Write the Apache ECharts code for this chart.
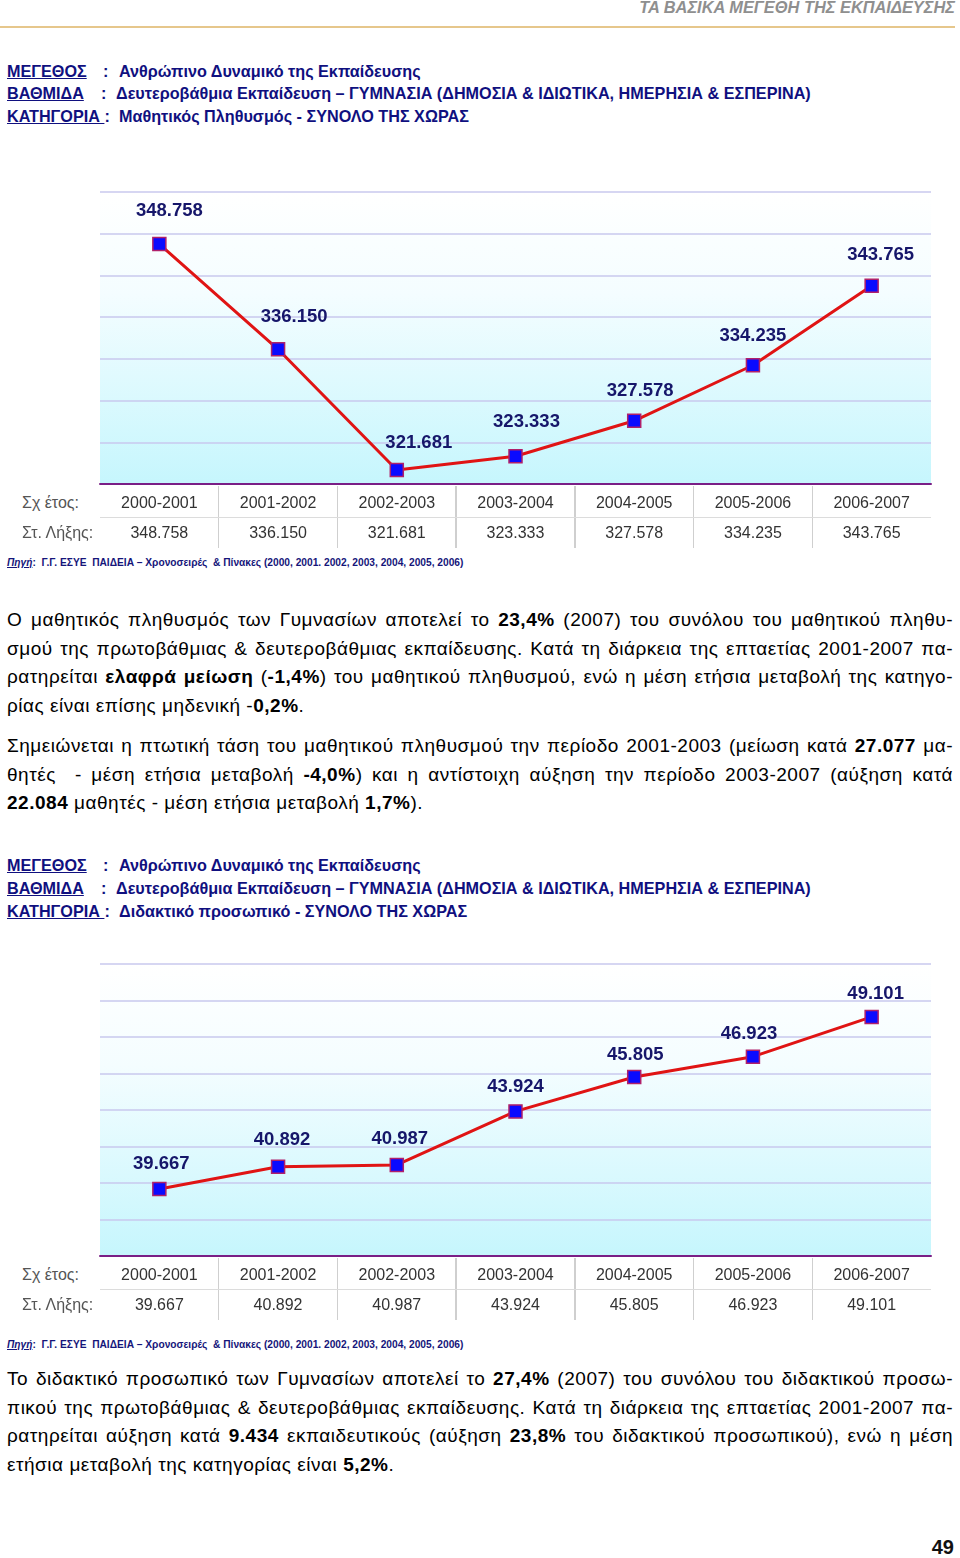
<!DOCTYPE html>
<html>
<head>
<meta charset="utf-8">
<script src="https://cdn.jsdelivr.net/npm/echarts@6/dist/echarts.min.js"></script>
<style>
  html, body { margin:0; padding:0; background:#fff; }
  #page { position:relative; width:960px; height:1558px; overflow:hidden; font-family:'Liberation Sans', Arial, sans-serif; }
  .abs { position:absolute; white-space:nowrap; }
  .hdr { right:5px; top:-3px; font-size:16.4px; line-height:20px; font-style:italic; font-weight:bold; color:#8f8f8f; }
  .gold { left:0; top:26px; width:955px; height:2px; background:#e6c78c; }
  .ttl { font-size:16.2px; line-height:20px; font-weight:bold; color:#10107f; }
  .src { font-size:10.2px; line-height:12px; font-weight:bold; color:#15157a; left:7px; }
  .par { position:absolute; left:7px; width:946px; font-size:19px; letter-spacing:0.52px; line-height:28.6px; color:#000; }
  .par div { text-align:justify; text-align-last:justify; white-space:nowrap; }
  .par div.last { text-align:left; text-align-last:left; }
  .tcell { position:absolute; font-size:16px; line-height:20px; color:#333; text-align:center; }
  .tlab { position:absolute; font-size:16px; line-height:20px; color:#555; left:22px; }
  .vsep { position:absolute; width:1.5px; background:#cfcfcf; }
  .hsep { position:absolute; height:1px; background:#dcdcdc; }
  .chart { position:absolute; left:0; width:960px; height:340px; }
</style>
</head>
<body>
<div id="page">
  <div class="abs hdr">ΤΑ ΒΑΣΙΚΑ ΜΕΓΕΘΗ ΤΗΣ ΕΚΠΑΙΔΕΥΣΗΣ</div>
  <div class="abs gold"></div>

  <div class="abs ttl" style="left:7px;top:61px"><u>ΜΕΓΕΘΟΣ</u></div>
  <div class="abs ttl" style="left:103px;top:61px">:</div>
  <div class="abs ttl" style="left:119px;top:61px">Ανθρώπινο Δυναμικό της Εκπαίδευσης</div>
  <div class="abs ttl" style="left:7px;top:83px"><u>ΒΑΘΜΙΔΑ</u></div>
  <div class="abs ttl" style="left:101px;top:83px">:</div>
  <div class="abs ttl" style="left:116px;top:83px">Δευτεροβάθμια Εκπαίδευση – ΓΥΜΝΑΣΙΑ (ΔΗΜΟΣΙΑ &amp; ΙΔΙΩΤΙΚΑ, ΗΜΕΡΗΣΙΑ &amp; ΕΣΠΕΡΙΝΑ)</div>
  <div class="abs ttl" style="left:7px;top:106px"><u>ΚΑΤΗΓΟΡΙΑ </u>:</div>
  <div class="abs ttl" style="left:119px;top:106px">Μαθητικός Πληθυσμός - ΣΥΝΟΛΟ ΤΗΣ ΧΩΡΑΣ</div>

  <div id="chart1" class="chart" style="top:150px"></div>
  <div id="table1"></div>
  <div class="abs src" style="top:557px"><i><u>Πηγή</u></i>:&nbsp; Γ.Γ. ΕΣΥΕ &nbsp;ΠΑΙΔΕΙΑ – Χρονοσειρές &nbsp;&amp; Πίνακες (2000, 2001. 2002, 2003, 2004, 2005, 2006)</div>

  <div class="par" style="top:606px">
    <div>Ο μαθητικός πληθυσμός των Γυμνασίων αποτελεί το <b>23,4%</b> (2007) του συνόλου του μαθητικού πληθυ-</div>
    <div>σμού της πρωτοβάθμιας &amp; δευτεροβάθμιας εκπαίδευσης. Κατά τη διάρκεια της επταετίας 2001-2007 πα-</div>
    <div>ρατηρείται <b>ελαφρά μείωση</b> (<b>-1,4%</b>) του μαθητικού πληθυσμού, ενώ η μέση ετήσια μεταβολή της κατηγο-</div>
    <div class="last">ρίας είναι επίσης μηδενική -<b>0,2%</b>.</div>
  </div>
  <div class="par" style="top:732px">
    <div>Σημειώνεται η πτωτική τάση του μαθητικού πληθυσμού την περίοδο 2001-2003 (μείωση κατά <b>27.077</b> μα-</div>
    <div>θητές &nbsp;- μέση ετήσια μεταβολή <b>-4,0%</b>) και η αντίστοιχη αύξηση την περίοδο 2003-2007 (αύξηση κατά</div>
    <div class="last"><b>22.084</b> μαθητές - μέση ετήσια μεταβολή <b>1,7%</b>).</div>
  </div>

  <div class="abs ttl" style="left:7px;top:855px"><u>ΜΕΓΕΘΟΣ</u></div>
  <div class="abs ttl" style="left:103px;top:855px">:</div>
  <div class="abs ttl" style="left:119px;top:855px">Ανθρώπινο Δυναμικό της Εκπαίδευσης</div>
  <div class="abs ttl" style="left:7px;top:878px"><u>ΒΑΘΜΙΔΑ</u></div>
  <div class="abs ttl" style="left:101px;top:878px">:</div>
  <div class="abs ttl" style="left:116px;top:878px">Δευτεροβάθμια Εκπαίδευση – ΓΥΜΝΑΣΙΑ (ΔΗΜΟΣΙΑ &amp; ΙΔΙΩΤΙΚΑ, ΗΜΕΡΗΣΙΑ &amp; ΕΣΠΕΡΙΝΑ)</div>
  <div class="abs ttl" style="left:7px;top:901px"><u>ΚΑΤΗΓΟΡΙΑ </u>:</div>
  <div class="abs ttl" style="left:119px;top:901px">Διδακτικό προσωπικό - ΣΥΝΟΛΟ ΤΗΣ ΧΩΡΑΣ</div>

  <div id="chart2" class="chart" style="top:922px"></div>
  <div id="table2"></div>
  <div class="abs src" style="top:1339px"><i><u>Πηγή</u></i>:&nbsp; Γ.Γ. ΕΣΥΕ &nbsp;ΠΑΙΔΕΙΑ – Χρονοσειρές &nbsp;&amp; Πίνακες (2000, 2001. 2002, 2003, 2004, 2005, 2006)</div>

  <div class="par" style="top:1365px">
    <div>Το διδακτικό προσωπικό των Γυμνασίων αποτελεί το <b>27,4%</b> (2007) του συνόλου του διδακτικού προσω-</div>
    <div>πικού της πρωτοβάθμιας &amp; δευτεροβάθμιας εκπαίδευσης. Κατά τη διάρκεια της επταετίας 2001-2007 πα-</div>
    <div>ρατηρείται αύξηση κατά <b>9.434</b> εκπαιδευτικούς (αύξηση <b>23,8%</b> του διδακτικού προσωπικού), ενώ η μέση</div>
    <div class="last">ετήσια μεταβολή της κατηγορίας είναι <b>5,2%</b>.</div>
  </div>

  <div class="abs" style="right:6px;top:1535px;font-size:20px;line-height:24px;font-weight:bold;color:#111">49</div>
</div>

<script>
// ---- data ----
const years = ['2000-2001','2001-2002','2002-2003','2003-2004','2004-2005','2005-2006','2006-2007'];
const students = [348758, 336150, 321681, 323333, 327578, 334235, 343765];
const teachers = [39667, 40892, 40987, 43924, 45805, 46923, 49101];
const rowLabels = ['Σχ έτος:', 'Στ. Λήξης:'];
const studentScale = { min: 320000, max: 355000, interval: 5000 };
const teacherScale = { min: 36000, max: 52000, interval: 2000 };

// ---- label nudges (styling only) ----
const studentLabelNudge = [[10,-2],[16,-2],[22,4],[11,-4],[6,1],[0,1],[9,0]];
const teacherLabelNudge = [[2,1],[4,-1],[3,0],[0,1],[1,4],[-4,3],[4,3]];

function fmt(v) { return String(v).replace(/\B(?=(\d{3})+(?!\d))/g, '.'); }

const GRID_LEFT = 100, GRID_W = 831, GRID_TOP = 42, GRID_H = 292;

function makeChart(id, values, scale, nudges, labelDist) {
  const chart = echarts.init(document.getElementById(id), null, { renderer: 'canvas' });
  chart.setOption({
    animation: false,
    grid: {
      left: GRID_LEFT, width: GRID_W, top: GRID_TOP, height: GRID_H,
      show: true, borderWidth: 0,
      backgroundColor: new echarts.graphic.LinearGradient(0, 0, 0, 1, [
        { offset: 0, color: '#ffffff' },
        { offset: 0.35, color: '#f4fdff' },
        { offset: 1, color: '#c6f6fd' }
      ])
    },
    xAxis: {
      type: 'category', data: years, boundaryGap: true,
      axisLine: { show: true, lineStyle: { color: '#7a1f86', width: 2 } },
      axisTick: { show: false }, axisLabel: { show: false }
    },
    yAxis: {
      type: 'value', min: scale.min, max: scale.max, interval: scale.interval,
      axisLine: { show: false }, axisTick: { show: false }, axisLabel: { show: false },
      splitLine: { show: true, lineStyle: { color: '#c9c9ee', width: 1.5 } }
    },
    series: [{
      type: 'line',
      data: values.map((v, i) => ({ value: v, label: { offset: nudges[i] } })),
      symbol: 'rect', symbolSize: 13,
      lineStyle: { color: '#e01414', width: 3 },
      itemStyle: { color: '#0a0aff', borderColor: '#b0206a', borderWidth: 1.5 },
      label: {
        show: true, position: 'top', distance: labelDist,
        formatter: p => fmt(p.value),
        fontFamily: "'Liberation Sans', Arial, sans-serif",
        fontSize: 18.5, fontWeight: 'bold', color: '#16166a'
      }
    }]
  });
  return chart;
}

function makeTable(id, values, axisY) {
  const host = document.getElementById(id);
  const colW = GRID_W / years.length;
  let html = '';
  const r1 = axisY + 9, r2 = axisY + 39;
  html += `<div class="tlab" style="top:${r1}px">${rowLabels[0]}</div>`;
  html += `<div class="tlab" style="top:${r2}px">${rowLabels[1]}</div>`;
  years.forEach((y, i) => {
    const x = GRID_LEFT + colW * i;
    html += `<div class="tcell" style="left:${x}px;width:${colW}px;top:${r1}px">${y}</div>`;
    html += `<div class="tcell" style="left:${x}px;width:${colW}px;top:${r2}px">${fmt(values[i])}</div>`;
    if (i > 0) html += `<div class="vsep" style="left:${x - 0.75}px;top:${axisY + 2}px;height:62px"></div>`;
  });
  html += `<div class="hsep" style="left:${GRID_LEFT}px;width:${GRID_W}px;top:${axisY + 33}px"></div>`;
  host.innerHTML = html;
}

makeChart('chart1', students, studentScale, studentLabelNudge, 14);
makeChart('chart2', teachers, teacherScale, teacherLabelNudge, 9);
makeTable('table1', students, 150 + GRID_TOP + GRID_H);
makeTable('table2', teachers, 922 + GRID_TOP + GRID_H);
</script>
</body>
</html>
